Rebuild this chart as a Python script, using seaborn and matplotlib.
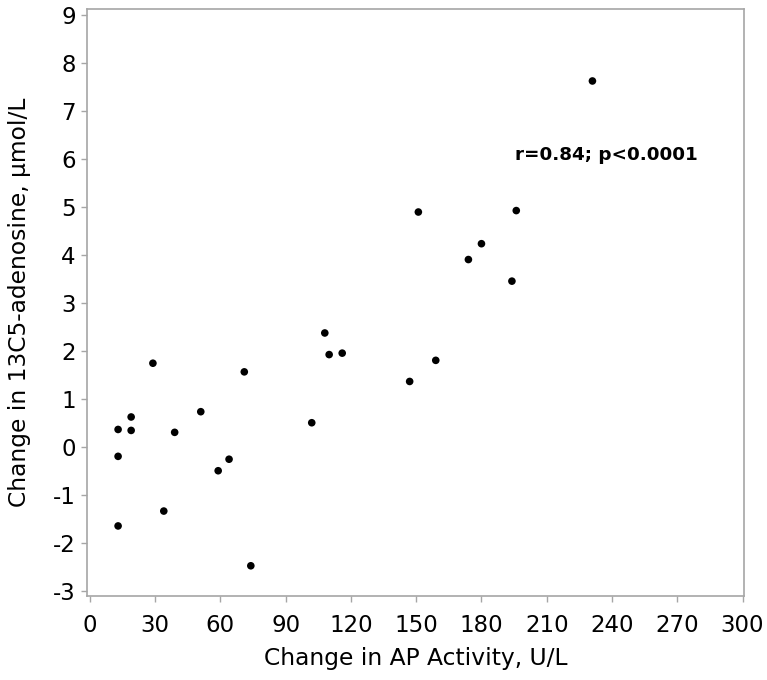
import matplotlib
matplotlib.use("Agg")
import matplotlib.pyplot as plt
import seaborn as sns
import pandas as pd

# values
ap_change = [13, 13, 13, 19, 19, 29, 34, 39, 51, 59, 64, 71, 74,
             102, 108, 110, 116, 147, 151, 159, 174, 180, 194, 196, 231]
adenosine_change = [0.37, -0.19, -1.64, 0.63, 0.35, 1.75, -1.33, 0.31, 0.74, -0.49, -0.25, 1.57, -2.47,
                    0.51, 2.38, 1.93, 1.96, 1.37, 4.90, 1.81, 3.91, 4.24, 3.46, 4.93, 7.63]
x_ticks = list(range(0, 301, 30))
y_ticks = list(range(-3, 10))
stat_text = "r=0.84; p<0.0001"

df = pd.DataFrame({"ap": ap_change, "ado": adenosine_change})

sns.set_theme(style="white")
plt.rcParams['font.family'] = ['DejaVu Sans']
plt.rcParams['axes.unicode_minus'] = False
plt.rcParams['text.color'] = "black"
plt.rcParams['axes.labelcolor'] = "black"
SPINE = "#a6a6a6"

fig = plt.figure(figsize=(7.67, 6.8), dpi=100)
ax = fig.add_axes([0.1134, 0.1235, 0.857, 0.864])

sns.scatterplot(ax=ax, data=df, x="ap", y="ado", color="black", s=30, edgecolor="none", linewidth=0)

ax.set_xlim(-1.3, 300.8)
ax.set_ylim(-3.1, 9.14)
ax.set_xticks(x_ticks)
ax.set_yticks(y_ticks)
ax.tick_params(axis="both", labelsize=16.5, colors=SPINE, labelcolor="black",
               length=4, width=1, direction="out", bottom=True, left=True)
ax.tick_params(axis="x", pad=9)
ax.tick_params(axis="y", pad=4)
for sp in ax.spines.values():
    sp.set_color(SPINE)
    sp.set_linewidth(1.2)

ax.set_xlabel("Change in AP Activity, U/L", fontsize=16.8, labelpad=7)
ax.set_ylabel("Change in 13C5-adenosine, \u00b5mol/L", fontsize=16.8, labelpad=16)

ax.text(195.2, 6.08, stat_text, fontsize=13.2, fontweight="bold", va="center", ha="left")

fig.savefig("out.png", dpi=100)
